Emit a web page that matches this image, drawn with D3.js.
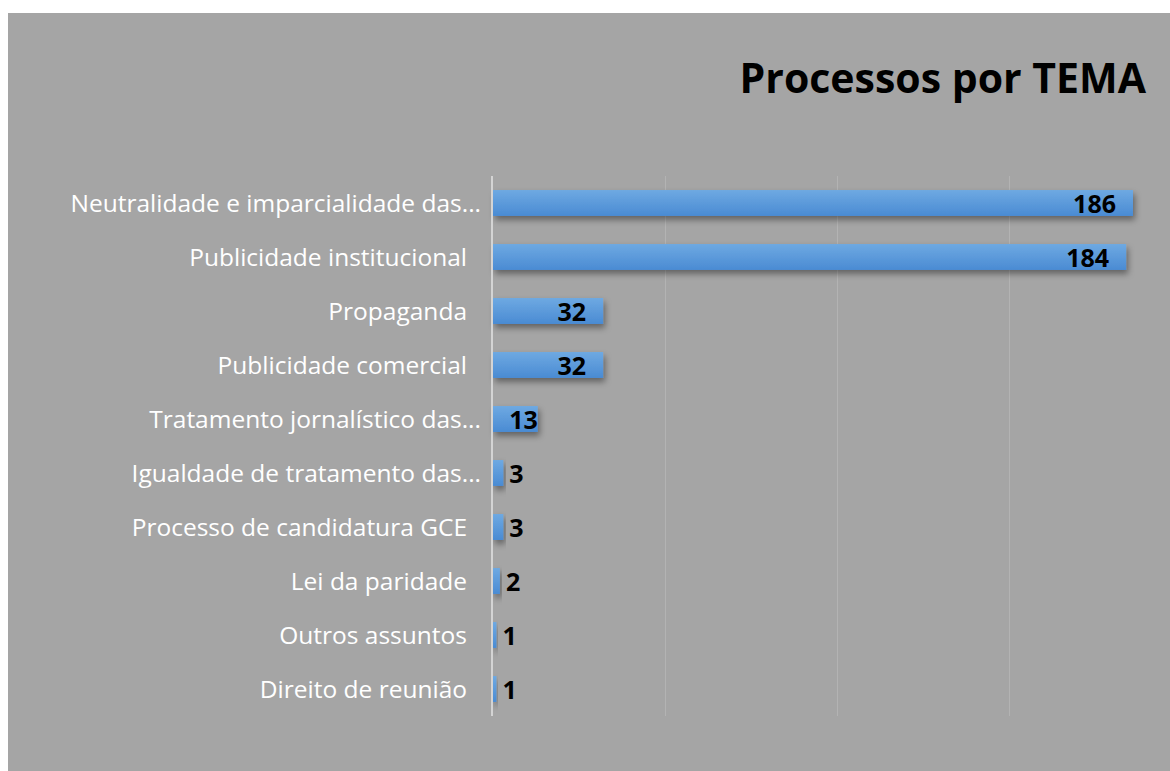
<!DOCTYPE html>
<html><head><meta charset="utf-8">
<script src="https://cdn.jsdelivr.net/npm/d3@7"></script>
<style>html,body{margin:0;padding:0;background:#fff;}svg{display:block;}</style>
</head><body>
<svg id="chart" width="1170" height="771"></svg>
<script>
const categories = ["Neutralidade e imparcialidade das...","Publicidade institucional","Propaganda","Publicidade comercial","Tratamento jornalístico das...","Igualdade de tratamento das...","Processo de candidatura GCE","Lei da paridade","Outros assuntos","Direito de reunião"];
const values = [186,184,32,32,13,3,3,2,1,1];
const gridTicks = [50,100,150];
const title = "Processos por TEMA";

(function(){
const svg = d3.select("#chart");
svg.append("rect").attr("x",8).attr("y",13).attr("width",1162).attr("height",758).attr("fill","#a5a5a5");

const defs = svg.append("defs");
const grad = defs.append("linearGradient").attr("id","barGrad").attr("x1",0).attr("y1",0).attr("x2",0).attr("y2",1);
grad.append("stop").attr("offset","0%").attr("stop-color","#6ea9e2");
grad.append("stop").attr("offset","100%").attr("stop-color","#4a8bd3");
const f = defs.append("filter").attr("id","shadow").attr("x","-10%").attr("y","-50%").attr("width","130%").attr("height","250%");
f.append("feDropShadow").attr("dx",2).attr("dy",4).attr("stdDeviation",3).attr("flood-color","#000").attr("flood-opacity",0.4);

const x0 = 493, plotTop = 176, plotBottom = 716;
const x = d3.scaleLinear().domain([0,200]).range([x0, x0 + 640*200/186]);
const y = d3.scaleBand().domain(categories).range([plotTop,plotBottom]).paddingInner(0.52).paddingOuter(0.26);

svg.append("g").selectAll("line").data(gridTicks).join("line")
  .attr("x1",d=>Math.round(x(d))+0.5).attr("x2",d=>Math.round(x(d))+0.5)
  .attr("y1",plotTop).attr("y2",plotBottom).attr("stroke","#b3b3b3").attr("stroke-width",1);

svg.append("g").selectAll("rect").data(values).join("rect")
  .attr("x",x(0)).attr("y",(d,i)=>y(categories[i]))
  .attr("width",d=>x(d)-x(0)).attr("height",y.bandwidth())
  .attr("fill","url(#barGrad)").attr("filter","url(#shadow)");

svg.append("line").attr("x1",x0-1).attr("x2",x0-1).attr("y1",plotTop).attr("y2",plotBottom)
  .attr("stroke","#d4d4d4").attr("stroke-width",2);

svg.append("g").selectAll("text").data(categories).join("text")
  .attr("x",d=>d.endsWith("...") ? x0-12 : x0-26)
  .attr("y",d=>y(d)+y.bandwidth()/2).attr("dy","0.37em")
  .attr("text-anchor","end").attr("fill","#ffffff")
  .style("font-family","'Open Sans', sans-serif").style("font-size","24.5px")
  .text(d=>d);

svg.append("g").selectAll("text").data(values).join("text")
  .each(function(d,i){
    const w = x(d)-x(0);
    const t = d3.select(this);
    if (w >= 60) t.attr("x",x(d)-17).attr("text-anchor","end");
    else if (w >= 30) t.attr("x",x(d)).attr("text-anchor","end");
    else t.attr("x",x(d)+6).attr("text-anchor","start");
    t.attr("y",y(categories[i])+y.bandwidth()/2).attr("dy","0.38em");
  })
  .attr("fill","#000")
  .style("font-family","'Open Sans', sans-serif").style("font-weight","bold").style("font-size","25px")
  .text(d=>d);

svg.append("text").attr("x",1146).attr("y",93).attr("text-anchor","end")
  .attr("fill","#000").style("font-family","'Open Sans', sans-serif").style("font-weight","bold").style("font-size","41px")
  .text(title);
})();
</script>
</body></html>
